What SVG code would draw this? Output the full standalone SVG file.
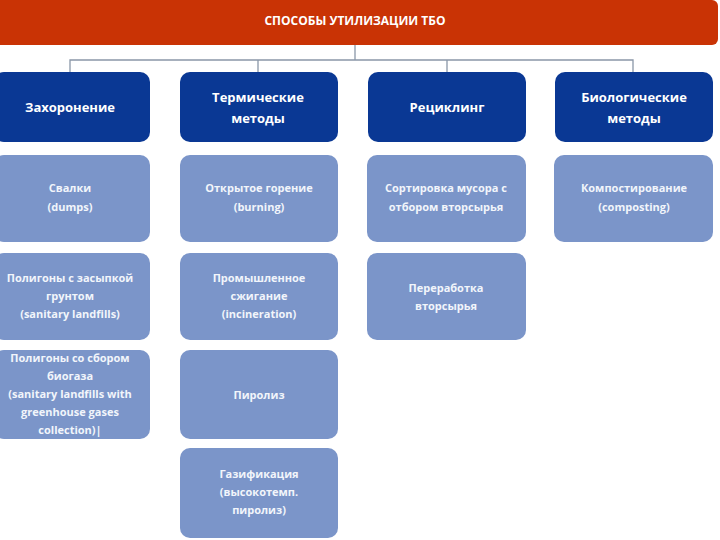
<svg xmlns="http://www.w3.org/2000/svg" width="720" height="540" viewBox="0 0 720 540">
<style>
.hdr{fill:#0A3894;}
.sub{fill:#7B95C9;}
.ht{font-family:"Open Sans","Liberation Sans",sans-serif;font-weight:bold;font-size:13px;fill:#ffffff;text-anchor:middle;}
.st{font-family:"Open Sans","Liberation Sans",sans-serif;font-weight:bold;font-size:11px;fill:#F2F5FB;text-anchor:middle;}
.tt{font-family:"Open Sans","Liberation Sans",sans-serif;font-weight:bold;font-size:12px;fill:#ffffff;text-anchor:middle;}
.ln{stroke:#8A97A8;stroke-width:1.3;fill:none;}
</style>
<rect width="720" height="540" fill="#ffffff"/>
<g id="root">
<rect x="-8" y="0" width="726" height="45" rx="6" fill="#C93305"/>
<text class="tt" x="355" y="25">СПОСОБЫ УТИЛИЗАЦИИ ТБО</text>
</g>
<g id="connectors">
<path class="ln" d="M355 45V60M70 72V60H633V72M258 60V72M447 60V72"/>
</g>
<g id="h1"><rect class="hdr" x="-6" y="72" width="156" height="70" rx="10"/><text class="ht" x="70" y="112">Захоронение</text></g>
<g id="h2"><rect class="hdr" x="180" y="72" width="158" height="70" rx="10"/><text class="ht" x="258" y="102">Термические</text><text class="ht" x="258" y="123">методы</text></g>
<g id="h3"><rect class="hdr" x="368" y="72" width="158" height="70" rx="10"/><text class="ht" x="447" y="112">Рециклинг</text></g>
<g id="h4"><rect class="hdr" x="555" y="72" width="158" height="70" rx="10"/><text class="ht" x="634" y="102">Биологические</text><text class="ht" x="634" y="123">методы</text></g>

<g id="c1r1"><rect class="sub" x="-6" y="155" width="156" height="87" rx="10"/><text class="st" x="70" y="192">Свалки</text><text class="st" x="70" y="211">(dumps)</text></g>
<g id="c1r2"><rect class="sub" x="-6" y="253" width="156" height="87" rx="10"/><text class="st" x="70" y="282">Полигоны с засыпкой</text><text class="st" x="70" y="300">грунтом</text><text class="st" x="70" y="318">(sanitary landfills)</text></g>
<g id="c1r3"><rect class="sub" x="-6" y="350" width="156" height="89" rx="10"/><text class="st" x="70" y="362">Полигоны со сбором</text><text class="st" x="70" y="380">биогаза</text><text class="st" x="70" y="398">(sanitary landfills with</text><text class="st" x="70" y="416">greenhouse gases</text><text class="st" x="70" y="434">collection)|</text></g>

<g id="c2r1"><rect class="sub" x="180" y="155" width="158" height="87" rx="10"/><text class="st" x="259" y="192">Открытое горение</text><text class="st" x="259" y="211">(burning)</text></g>
<g id="c2r2"><rect class="sub" x="180" y="253" width="158" height="87" rx="10"/><text class="st" x="259" y="282">Промышленное</text><text class="st" x="259" y="300">сжигание</text><text class="st" x="259" y="318">(incineration)</text></g>
<g id="c2r3"><rect class="sub" x="180" y="350" width="158" height="89" rx="10"/><text class="st" x="259" y="399">Пиролиз</text></g>
<g id="c2r4"><rect class="sub" x="180" y="448" width="158" height="90" rx="10"/><text class="st" x="259" y="478">Газификация</text><text class="st" x="259" y="496">(высокотемп.</text><text class="st" x="259" y="514">пиролиз)</text></g>

<g id="c3r1"><rect class="sub" x="367" y="155" width="159" height="87" rx="10"/><text class="st" x="446" y="192">Сортировка мусора с</text><text class="st" x="446" y="211">отбором вторсырья</text></g>
<g id="c3r2"><rect class="sub" x="367" y="253" width="159" height="87" rx="10"/><text class="st" x="446" y="292">Переработка</text><text class="st" x="446" y="310">вторсырья</text></g>

<g id="c4r1"><rect class="sub" x="554" y="155" width="159" height="87" rx="10"/><text class="st" x="634" y="192">Компостирование</text><text class="st" x="634" y="211">(composting)</text></g>
</svg>
